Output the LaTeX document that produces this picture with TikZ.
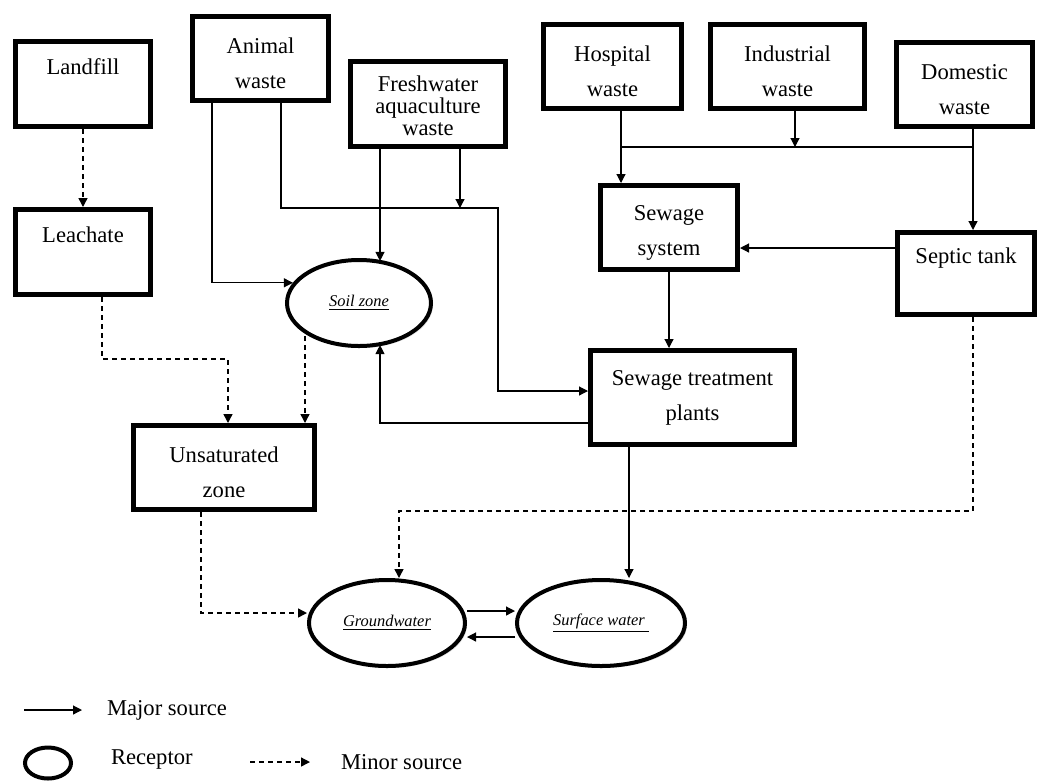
\documentclass[tikz,border=0pt]{standalone}
\usepackage{fontspec}
\setmainfont{Liberation Serif}
\usetikzlibrary{shapes.geometric,arrows.meta,shadows}
\newcommand{\boxgap}{\rule{0pt}{13pt}}

\begin{document}
\begin{tikzpicture}[x=0.5pt, y=-0.5pt,
	box/.style={draw, fill=white, line width=2.5pt, align=center, inner sep=0pt,
	  font=\fontsize{11.3}{17.5}\selectfont,
	  drop shadow={shadow xshift=1pt, shadow yshift=-1pt, opacity=0.25}},
	receptor/.style={ellipse, draw, fill=white, line width=2pt, inner sep=0pt,
	  minimum height=43pt, font=\fontsize{8.2}{9}\selectfont\itshape,
	  drop shadow={shadow xshift=1pt, shadow yshift=-1pt, opacity=0.25}},
	major/.style={line width=0.6pt, -{Triangle[length=4.5pt,width=4.5pt]}},
	minor/.style={line width=0.7pt, dash pattern=on 2.5pt off 2pt, -{Triangle[length=4.5pt,width=4.5pt]}},
	legtext/.style={anchor=west, font=\fontsize{11.3}{13}\selectfont}]
	\useasboundingbox (0,0) rectangle (1038,783);
	% sources
	\node[box, minimum width=67.5pt, minimum height=42.5pt] (landfill) at (83,84) {\boxgap Landfill\\ \strut};
	\node[box, minimum width=68pt, minimum height=42pt] (animal) at (260.5,58.5) {\boxgap Animal\\waste};
	\node[box, minimum width=77.5pt, minimum height=42.5pt, font=\fontsize{11.3}{11}\selectfont] (fresh) at (428,104) {\rule{0pt}{10pt}Freshwater\\aquaculture\\waste};
	\node[box, minimum width=67.5pt, minimum height=42.5pt] (leachate) at (83,252) {\boxgap Leachate\\ \strut};
	\node[box, minimum width=69pt, minimum height=42pt] (hospital) at (612.5,66.5) {\boxgap Hospital\\waste};
	\node[box, minimum width=77pt, minimum height=42pt] (industrial) at (787.5,66.5) {\boxgap Industrial\\waste};
	\node[box, minimum width=68pt, minimum height=42pt] (domestic) at (964.5,84.5) {\boxgap Domestic\\waste};
	\node[box, minimum width=68.5pt, minimum height=42pt] (sewage) at (669,227.5) {\boxgap Sewage\\system};
	\node[box, minimum width=68.5pt, minimum height=41pt] (septic) at (966,273.5) {\boxgap Septic tank\\ \strut};
	\node[box, minimum width=102pt, minimum height=47pt] (treat) at (692.5,397.5) {Sewage treatment\\plants};
	\node[box, minimum width=90.5pt, minimum height=42pt] (unsat) at (224,467.5) {\boxgap Unsaturated\\zone};
	% receptors
	\node[receptor, minimum width=72pt] (soil) at (359,303) {\underline{Soil zone}};
	\node[receptor, minimum width=78pt] (gw) at (387,623) {\underline{Groundwater}};
	\node[receptor, minimum width=84pt] (sw) at (601,623) {\underline{Surface water\ }};
	% bends and junctions
	\coordinate (a1) at (212,0);
	\coordinate (a2) at (281,0);
	\coordinate (j2) at (498,208);
	\coordinate (f1) at (380,0);
	\coordinate (f2) at (460,208);
	\coordinate (l1) at (102,0);
	\coordinate (l2) at (228,359);
	\coordinate (u1) at (305,0);
	\coordinate (v1) at (201,0);
	\coordinate (h1) at (621,147);
	\coordinate (i1) at (795,147);
	\coordinate (dx) at (973,147);
	\coordinate (s2) at (0,248);
	\coordinate (t1) at (629,0);
	\coordinate (d3) at (399,511);
	% major flows
	\draw[major] (animal.south -| a1) |- (soil.163);
	\draw[major] (animal.south -| a2) |- (j2) |- ([yshift=3.25pt]treat.west);
	\draw[major] (fresh.south -| f1) -- (f1 |- soil.58);
	\draw[major] (fresh.south -| f2) -- (f2);
	\draw[major] ([yshift=-12.75pt]treat.west) -| (f1 |- soil.-58);
	\draw[major] (hospital.south -| h1) -- (h1 |- sewage.north);
	\draw[line width=0.6pt] (h1) -- (dx);
	\draw[major] (industrial.south -| i1) -- (i1);
	\draw[major] (domestic.south -| dx) -- (dx |- septic.north);
	\draw[major] (septic.west |- s2) -- (sewage.east |- s2);
	\draw[major] (sewage.south) -- (sewage.south |- treat.north);
	\draw[major] (treat.south -| t1) -- (t1 |- sw.north);
	\draw[major] ([yshift=6pt]gw.east) -- ([yshift=6pt]sw.west);
	\draw[major] ([yshift=-7pt]sw.west) -- ([yshift=-7pt]gw.east);
	% minor flows
	\draw[minor] (landfill.south) -- (leachate.north);
	\draw[minor] (leachate.south -| l1) |- (l2) -- (l2 |- unsat.north);
	\draw[minor] (u1 |- soil.214) -- (u1 |- unsat.north);
	\draw[minor] (v1 |- unsat.south) |- ([yshift=5pt]gw.west);
	\draw[minor] (septic.south -| dx) |- (d3) -- (d3 |- gw.north);
	% legend
	\coordinate (m1) at (24,710);
	\coordinate (m2) at (82,710);
	\coordinate (n1) at (250,762);
	\coordinate (n2) at (310,762);
	\draw[major] (m1) -- (m2);
	\node[legtext] (majtext) at (100,710) {Major source};
	\node[ellipse, draw, line width=2pt, minimum width=23pt, minimum height=15.5pt, inner sep=0pt] (leg-rec) at (48,763) {};
	\node[legtext] (rectext) at (104,759) {Receptor};
	\draw[minor] (n1) -- (n2);
	\node[legtext] (mintext) at (334,762) {Minor source};
\end{tikzpicture}
\end{document}
